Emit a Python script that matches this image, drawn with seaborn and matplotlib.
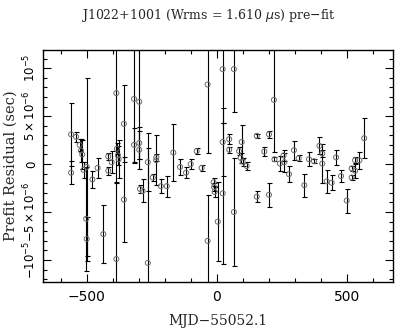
import numpy as np
import pandas as pd
import matplotlib
matplotlib.use("Agg")
import matplotlib.pyplot as plt
import seaborn as sns
from matplotlib.ticker import MultipleLocator

# residuals (days from MJD 55052.1, microseconds)
days = [-560, -560, -541, -527, -522, -517, -512, -500, -500, -502,
        -478, -458, -436, -417, -417, -404, -386, -386, -384, -380,
        -377, -357, -357, -318, -318, -298, -298, -298, -295, -285,
        -265, -265, -246, -233, -232, -215, -192, -167, -141, -118,
        -100, -77, -58, -35, -35, -12, -10, -8, 4, 23,
        23, 23, 48, 48, 66, 66, 86, 92, 96, 100,
        115, 154, 154, 183, 201, 201, 220, 222, 243, 257,
        260, 278, 297, 315, 337, 355, 374, 395, 406, 406,
        423, 442, 459, 478, 500, 519, 519, 532, 532, 549,
        567]
resid_us = [3.1, -0.9, 2.85, 2.0, 1.4, 1.0, -0.6, -0.3, -7.8, -5.7,
            -1.6, -0.4, -7.3, 0.8, -0.7, 0.2, 7.4, -9.9, 1.6, 0.9,
            0.5, 4.2, -3.7, 6.8, 2.0, 6.5, 2.2, 1.5, -2.6, -2.8,
            0.2, -10.3, -1.4, 0.4, 0.7, -2.3, -2.3, 1.2, -0.3, -0.9,
            0.0, 1.35, -0.4, 8.3, -8.0, -1.9, -2.4, -2.9, -6.0, 9.9,
            2.3, -3.05, 2.6, 1.5, 9.9, -5.0, 1.35, 0.65, 2.3, 0.25,
            -0.2, 2.95, -3.4, 1.3, 3.1, -3.2, 6.7, 0.5, 0.05, 0.9,
            0.2, -1.05, 1.45, 0.6, -2.2, 0.5, 0.3, 1.9, 0.05, 1.1,
            -1.8, -1.95, 0.7, -1.25, -3.8, -0.45, -1.4, -0.7, 0.4, 0.4,
            2.7]
err_us = [3.3, 1.2, 0.5, 0.6, 1.2, 1.5, 0.8, 9.3, 2.3, 5.4,
          0.9, 1.0, 3.0, 0.4, 0.4, 1.15, 9.4, 8.0, 0.6, 1.0,
          2.0, 4.0, 4.4, 6.7, 1.8, 6.0, 1.7, 2.0, 0.4, 1.2,
          3.0, 12.0, 0.4, 2.6, 0.4, 0.75, 1.1, 2.95, 0.85, 0.6,
          0.5, 0.35, 0.3, 7.1, 4.8, 0.4, 0.4, 0.5, 4.1, 5.6,
          3.5, 7.35, 0.5, 0.3, 4.5, 5.6, 0.4, 0.5, 1.8, 0.4,
          0.45, 0.2, 0.55, 0.5, 0.4, 1.25, 5.4, 0.2, 0.75, 0.6,
          1.0, 0.85, 1.0, 0.3, 1.2, 0.75, 0.2, 0.9, 2.05, 0.4,
          1.2, 0.8, 0.75, 0.65, 1.25, 0.3, 0.3, 0.7, 0.3, 0.9,
          2.1]

ytick_vals = [-1e-5, -5e-6, 0, 5e-6, 1e-5]
ytick_labels = [r"$-10^{-5}$", r"$-5\times10^{-6}$", "0",
                r"$5\times10^{-6}$", r"$10^{-5}$"]
xtick_vals = [-500, 0, 500]

df = pd.DataFrame({"day": days,
                   "res": np.array(resid_us) * 1e-6,
                   "err": np.array(err_us) * 1e-6})

sns.set_style("ticks")
plt.rcParams["mathtext.fontset"] = "dejavusans"

fig = plt.figure(figsize=(4.15, 3.33), dpi=100)
ax = fig.add_axes([0.103, 0.153, 0.844, 0.697])

ax.errorbar(df["day"], df["res"], yerr=df["err"], fmt="none",
            ecolor="black", elinewidth=0.8, capsize=1.8, capthick=0.8, zorder=2)
sns.scatterplot(data=df, x="day", y="res", ax=ax, marker="o", s=13,
                facecolor="none", edgecolor="#6a6a6a", linewidth=0.7, zorder=3)

ax.set_xlim(-669, 678)
ax.set_ylim(-12.3e-6, 11.9e-6)

ax.set_xticks(xtick_vals)
ax.set_xticklabels(["\u2212500", "0", "500"], fontsize=10)
ax.xaxis.set_minor_locator(MultipleLocator(100))
ax.set_yticks(ytick_vals)
ax.set_yticklabels(ytick_labels, rotation=90, va="center", fontsize=8.5)
ax.yaxis.set_minor_locator(MultipleLocator(1e-6))

ax.tick_params(which="both", direction="in", top=True, right=True,
               width=0.8, colors="black")
ax.tick_params(axis="x", which="major", length=6, pad=6)
ax.tick_params(axis="y", which="major", length=6, pad=3)
ax.tick_params(which="minor", length=3)
for s in ax.spines.values():
    s.set_linewidth(1.0)
    s.set_color("black")

ax.set_xlabel("MJD\u221255052.1", fontsize=10, family="DejaVu Serif", labelpad=7)
ax.set_ylabel("Prefit Residual (sec)", fontsize=10.5, family="DejaVu Serif", labelpad=3)
fig.text(0.502, 0.952, r"J1022+1001 (Wrms = 1.610 $\mu$s) pre$-$fit",
         ha="center", va="center", fontsize=9, family="DejaVu Serif")

fig.savefig("out.png", dpi=100)
